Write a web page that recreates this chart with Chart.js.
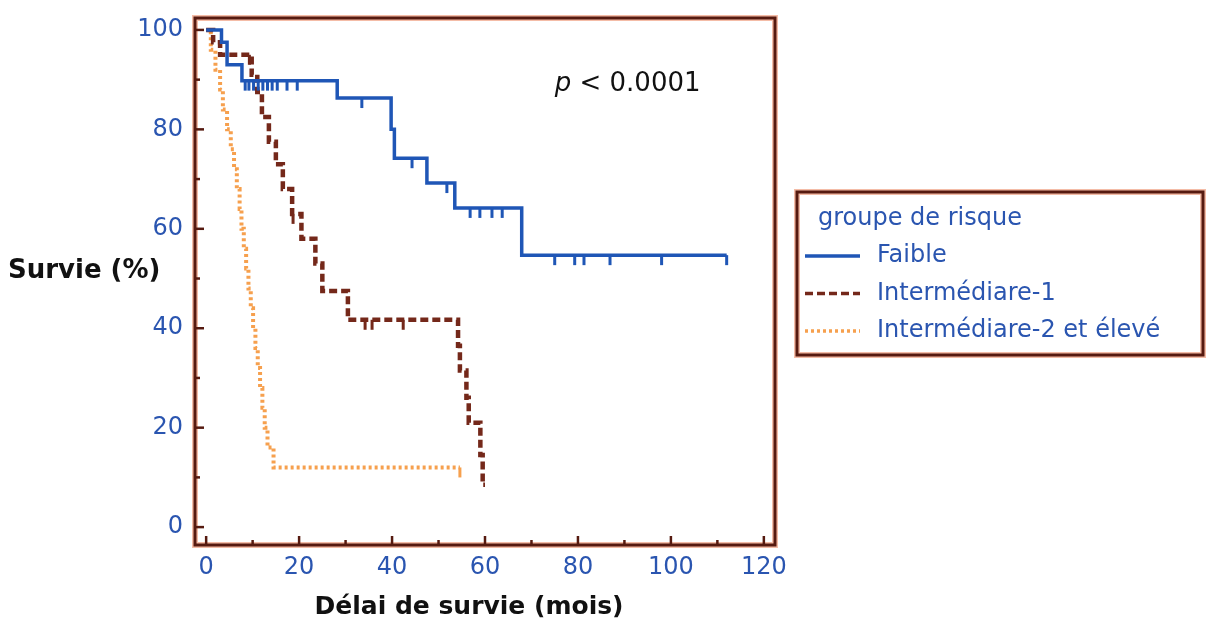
<!DOCTYPE html>
<html lang="fr">
<head>
<meta charset="UTF-8">
<title>Survie par groupe de risque</title>
<style>
  html, body { margin: 0; padding: 0; background: #fff; }
  #wrap { width: 1210px; height: 630px; }
</style>
</head>
<body>
<div id="wrap"><canvas id="survieChart" width="1210" height="630"></canvas></div>

<script src="https://cdn.jsdelivr.net/npm/chart.js"></script>
<script>
// --- données (Kaplan-Meier) ---
const groupes = ['Faible', 'Intermédiare-1', 'Intermédiare-2 et élevé'];

const faibleMois   = [0, 3.3, 4.5, 7.7, 28.2, 39.8, 40.5, 47.5, 53.5, 67.9, 112];
const faibleSurvie = [100, 97.5, 93, 89.8, 86.3, 80, 74.2, 69.2, 64.2, 54.7, 54.7];
const faibleCensures = [8.4, 9.2, 10.2, 11.2, 12.2, 13.2, 14.2, 15.3, 17.4, 19.6, 33.5, 44.3, 51.8,
                        56.8, 58.9, 61.5, 63.7, 75, 79.3, 81.3, 86.9, 98, 112];

const inter1Mois   = [0, 1.5, 3, 9.8, 11, 12, 13.5, 15, 16.5, 18.5, 20.5, 23.5, 25, 30.5,
                      54.2, 54.6, 56, 56.5, 59, 59.5, 60];
const inter1Survie = [100, 97.5, 95, 91, 87.5, 82.5, 77.5, 73, 68, 63, 58, 53, 47.5, 41.7,
                      36.5, 31.5, 26, 21, 14.5, 8.5, 8.5];
const inter1Censures = [9.3, 18.7, 34.2, 35.7, 42.4];

const inter2Mois   = [0, 1, 2, 3, 3.6, 4.5, 5.3, 6, 6.6, 7.2, 7.6, 8.1, 8.6, 9.1, 9.6, 10.1,
                      10.6, 11.1, 11.6, 12.1, 12.6, 13.2, 14.5, 54.6];
const inter2Survie = [100, 96, 92, 88, 84, 80, 76, 72, 68, 64, 60, 56, 52, 48, 44, 40,
                      36, 32, 28, 24, 20, 16, 12, 12];
const inter2Censures = [54.6];

const xTicks = [0, 20, 40, 60, 80, 100, 120];
const xMinor = [10, 30, 50, 70, 90, 110];
const yTicks = [0, 20, 40, 60, 80, 100];
const yMinor = [10, 30, 50, 70, 90];

const titreX = 'Délai de survie (mois)';
const titreY = 'Survie (%)';
const titreLegende = 'groupe de risque';
const pValeur = ' < 0.0001';

// --- aide ---
const kmPoints = (mois, survie) => mois.map((m, i) => ({ x: m, y: survie[i] }));
function survieA(mois, survie, t) {
    let s = survie[0];
    for (let i = 0; i < mois.length; i++) if (mois[i] <= t) s = survie[i];
    return s;
}

const BLEU = '#1f56b6';
const BRUN = '#74281a';
const ORANGE = '#f6a04e';
const TEXTE_BLEU = '#2a55b0';

Chart.defaults.font.family = '"DejaVu Sans", sans-serif';

function cadre(ctx, x, y, w, h) {
    ctx.save();
    ctx.strokeStyle = 'rgba(240,160,130,0.7)';
    ctx.lineWidth = 6;
    ctx.strokeRect(x, y, w, h);
    ctx.strokeStyle = '#561a10';
    ctx.lineWidth = 3;
    ctx.strokeRect(x, y, w, h);
    ctx.restore();
}

const decorPlugin = {
    id: 'decor',
    afterDatasetsDraw(chart) {
        const { ctx, scales: { x, y } } = chart;
        // marques de censure
        chart.data.datasets.forEach(ds => {
            ctx.save();
            ctx.strokeStyle = ds.borderColor;
            ctx.lineWidth = 3;
            ds.censures.forEach(t => {
                const px = x.getPixelForValue(t);
                const py = y.getPixelForValue(survieA(ds.mois, ds.survie, t));
                ctx.beginPath();
                ctx.moveTo(px, py);
                ctx.lineTo(px, py + 10);
                ctx.stroke();
            });
            ctx.restore();
        });
    },
    afterDraw(chart) {
        const { ctx, chartArea: a, scales: { x, y } } = chart;
        cadre(ctx, a.left, a.top, a.width, a.height);

        // graduations vers l'intérieur
        ctx.save();
        ctx.strokeStyle = '#561a10';
        ctx.lineWidth = 2.5;
        const trait = (x1, y1, x2, y2) => { ctx.beginPath(); ctx.moveTo(x1, y1); ctx.lineTo(x2, y2); ctx.stroke(); };
        xTicks.forEach(v => { const px = x.getPixelForValue(v); trait(px, a.bottom, px, a.bottom - 9); });
        xMinor.forEach(v => { const px = x.getPixelForValue(v); trait(px, a.bottom, px, a.bottom - 5); });
        yTicks.forEach(v => { const py = y.getPixelForValue(v); trait(a.left, py, a.left + 9, py); });
        yMinor.forEach(v => { const py = y.getPixelForValue(v); trait(a.left, py, a.left + 5, py); });
        ctx.restore();

        // titres des axes
        ctx.save();
        ctx.fillStyle = '#111';
        ctx.textBaseline = 'middle';
        ctx.font = 'bold 26px "DejaVu Sans"';
        ctx.textAlign = 'left';
        ctx.fillText(titreY, 8, 271);
        ctx.font = 'bold 25px "DejaVu Sans"';
        ctx.textAlign = 'center';
        ctx.fillText(titreX, 469, 607);

        // p-valeur
        const px = x.getPixelForValue(75), py = y.getPixelForValue(89);
        ctx.textAlign = 'left';
        ctx.font = 'italic 26px "DejaVu Sans"';
        ctx.fillText('p', px, py);
        const wp = ctx.measureText('p').width;
        ctx.font = '26px "DejaVu Sans"';
        ctx.fillText(pValeur, px + wp, py);
        ctx.restore();

        // légende
        cadre(ctx, 797, 192, 406, 163);
        ctx.save();
        ctx.font = '24px "DejaVu Sans"';
        ctx.fillStyle = TEXTE_BLEU;
        ctx.textBaseline = 'middle';
        ctx.fillText(titreLegende, 818, 219);
        chart.data.datasets.forEach((ds, i) => {
            const yy = 256 + i * 37.5;
            ctx.save();
            ctx.strokeStyle = ds.borderColor;
            ctx.lineWidth = 3.5;
            ctx.setLineDash(ds.borderDash || []);
            ctx.beginPath();
            ctx.moveTo(805, yy);
            ctx.lineTo(860, yy);
            ctx.stroke();
            ctx.restore();
            ctx.fillText(ds.label, 877, yy);
        });
        ctx.restore();
    }
};

const ctx = document.getElementById('survieChart').getContext('2d');
new Chart(ctx, {
    type: 'line',
    data: {
        datasets: [
            {
                label: groupes[0],
                data: kmPoints(faibleMois, faibleSurvie),
                mois: faibleMois, survie: faibleSurvie, censures: faibleCensures,
                borderColor: BLEU, borderWidth: 3.5, stepped: 'before',
                pointRadius: 0, fill: false
            },
            {
                label: groupes[1],
                data: kmPoints(inter1Mois, inter1Survie),
                mois: inter1Mois, survie: inter1Survie, censures: inter1Censures,
                borderColor: BRUN, borderWidth: 4.5, borderDash: [8, 4], stepped: 'before',
                pointRadius: 0, fill: false
            },
            {
                label: groupes[2],
                data: kmPoints(inter2Mois, inter2Survie),
                mois: inter2Mois, survie: inter2Survie, censures: inter2Censures,
                borderColor: ORANGE, borderWidth: 4, borderDash: [3, 3], stepped: 'before',
                pointRadius: 0, fill: false
            }
        ]
    },
    options: {
        responsive: false,
        animation: false,
        layout: { padding: { left: 10, top: 18, right: 435, bottom: 0 } },
        plugins: {
            legend: { display: false },
            tooltip: { enabled: false }
        },
        scales: {
            x: {
                type: 'linear',
                min: -2.4, max: 122.4,
                afterBuildTicks: s => { s.ticks = xTicks.map(v => ({ value: v })); },
                afterFit: s => { s.height = 85; s.paddingLeft = 0; s.paddingRight = 0; },
                grid: { display: false, drawTicks: false },
                border: { display: false },
                ticks: { color: TEXTE_BLEU, font: { size: 24 }, padding: 8, maxRotation: 0, autoSkip: false }
            },
            y: {
                min: -3.6, max: 102.4,
                afterBuildTicks: s => { s.ticks = yTicks.map(v => ({ value: v })); },
                afterFit: s => { s.width = 185; s.paddingTop = 0; s.paddingBottom = 0; },
                grid: { display: false, drawTicks: false },
                border: { display: false },
                ticks: { color: TEXTE_BLEU, font: { size: 24 }, padding: 12, autoSkip: false }
            }
        }
    },
    plugins: [decorPlugin]
});
</script>
</body>
</html>
